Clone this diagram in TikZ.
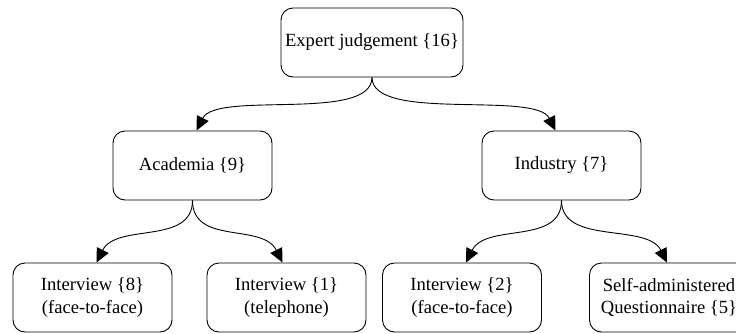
\documentclass[tikz,border=0pt]{standalone}
\usepackage{fontspec}
\setmainfont{Liberation Serif}
\usetikzlibrary{arrows.meta}
\begin{document}
\begin{tikzpicture}[x=1pt,y=-1pt,
  box/.style={draw, line width=0.9pt, rounded corners=12pt, minimum width=159pt, minimum height=69pt,
    align=center, font=\fontsize{18.6}{22.5}\selectfont, inner sep=0pt},
  link/.style={line width=0.9pt, -{Triangle[length=14pt,width=13pt]}}]
\useasboundingbox (0,0) rectangle (736,333);
\clip (0,0) rectangle (736,333);
\node[box, minimum width=182pt] (top) at (372,42.5) {Expert judgement \{16\}};
\node[box] (acad) at (192.5,165.5) {Academia \{9\}};
\node[box] (ind) at (561.5,165.5) {Industry \{7\}};
\node[box] (i8) at (92.5,297.5) {Interview \{8\}\\(face-to-face)};
\node[box] (i1) at (286.5,297.5) {Interview \{1\}\\(telephone)};
\node[box] (i2) at (462,297.5) {Interview \{2\}\\(face-to-face)};
\node[box] (sq) at (669,297.5) {Self-administered\\Questionnaire \{5\}};
\draw[link] (top.south) .. controls +(0,45) and +(20,-40) .. ([xshift=4pt]acad.north);
\draw[link] (top.south) .. controls +(0,45) and +(-20,-40) .. ([xshift=-6pt]ind.north);
\draw[link] (acad.south) .. controls +(0,45) and +(20,-40) .. ([xshift=4pt]i8.north);
\draw[link] (acad.south) .. controls +(0,45) and +(-20,-40) .. ([xshift=-4pt]i1.north);
\draw[link] (ind.south) .. controls +(0,45) and +(20,-40) .. ([xshift=4pt]i2.north);
\draw[link] (ind.south) .. controls +(0,45) and +(-20,-40) .. ([xshift=-2pt]sq.north);
\end{tikzpicture}
\end{document}
